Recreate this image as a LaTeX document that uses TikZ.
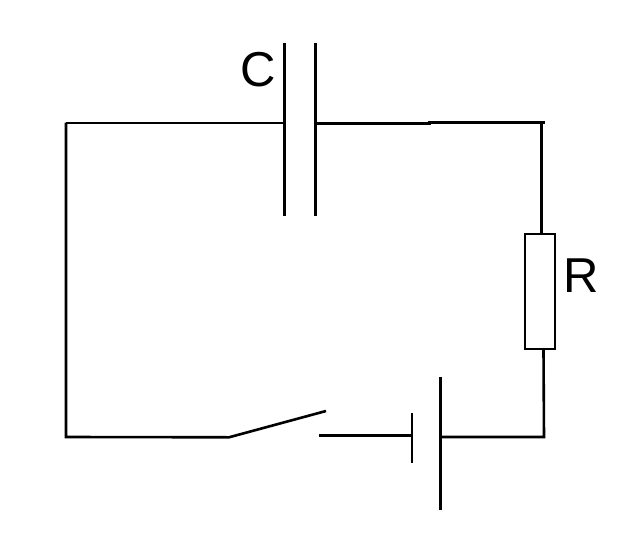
\documentclass[tikz,border=0pt]{standalone}
\usepackage{fontspec}
\setmainfont{Liberation Sans}
\begin{document}
\begin{tikzpicture}[x=1pt,y=-1pt,wire/.style = {line width=2.6pt},thin wire/.style = {line width=2pt},
	resistor/.style = {draw, line width=2pt, minimum width=30pt, minimum height=115pt, inner sep=0pt},
	lbl/.style = {font=\fontsize{49}{49}\selectfont, inner sep=0pt}]
	\useasboundingbox (0,0) rectangle (622,552);
	\coordinate (tl) at (66,122.7);
	\coordinate (bl) at (66,437);
	\coordinate (c1) at (284.5,122.7);
	\coordinate (c2) at (315.5,123.7);
	\coordinate (tm) at (431,123.7);
	\coordinate (tm2) at (428,122.3);
	\coordinate (tr) at (545,122.3);
	\coordinate (br) at (544,437);
	\coordinate (c1a) at (284.5,43);
	\coordinate (c1b) at (284.5,216);
	\coordinate (c2a) at (315.5,43);
	\coordinate (c2b) at (315.5,216);
	\node[resistor] (r) at (540,291.2) {};
	\coordinate (rt) at (541.7,122.3);
	\coordinate (rb) at (543.5,437);
	\coordinate (s1) at (229,437.3);
	\coordinate (s2) at (326,411);
	\coordinate (s3) at (319.3,435.3);
	\coordinate (b1) at (410.5,435.3);
	\coordinate (b1a) at (411.7,412.7);
	\coordinate (b1b) at (411.7,462.7);
	\coordinate (b2) at (440.3,437);
	\coordinate (b2a) at (440.3,377);
	\coordinate (b2b) at (440.3,510);
	\node[lbl] (cl) at (258,70) {C};
	\node[lbl] (rl) at (581.5,276) {R};
	\draw[thin wire] (c1) -- (tl);
	\draw[wire] (tl) -- (bl) -- (s1) -- (s2);
	\draw[wire] (c2) -- (tm);
	\draw[wire] (tm2) -- (tr);
	\draw[wire] (rt) -- (r.north -| rt);
	\draw[wire] (r.south -| rb) -- (br) -- (b2);
	\draw[wire] (s3) -- (b1);
	\draw[wire] (c1a) -- (c1b);
	\draw[wire] (c2a) -- (c2b);
	\draw[thin wire] (b1a) -- (b1b);
	\draw[wire] (b2a) -- (b2b);
\end{tikzpicture}
\end{document}
